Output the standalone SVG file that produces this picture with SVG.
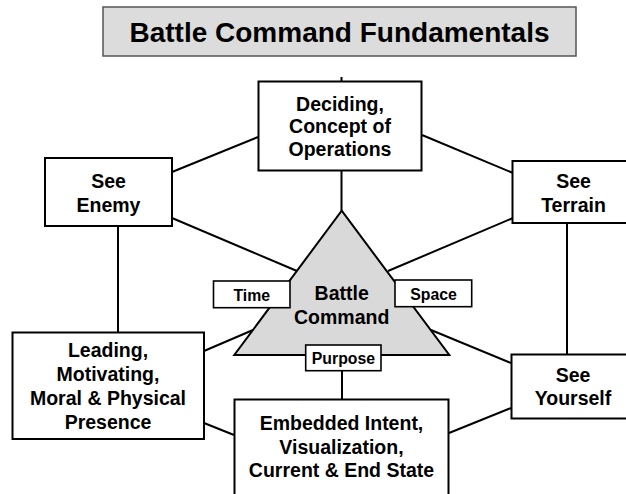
<svg xmlns="http://www.w3.org/2000/svg" width="626" height="494" viewBox="0 0 626 494">
  <style>
    text { font-family: "Liberation Sans", Arial, sans-serif; font-weight: bold; fill: #000; text-anchor: middle; }
    .node { fill: #fff; stroke: #000; stroke-width: 2; }
    .lbl { fill: #fff; stroke: #000; stroke-width: 1.6; }
    .t { font-size: 19.5px; }
    .s { font-size: 15.8px; }
    .conn line { stroke: #000; stroke-width: 2; }
  </style>
  <rect width="626" height="494" fill="#fff"/>
  <g id="title">
    <rect x="103" y="7" width="473" height="49" fill="#dcdcdc" stroke="#555" stroke-width="1.5"/>
    <text x="339.5" y="42" style="font-size:28px">Battle Command Fundamentals</text>
  </g>
  <g id="connectors" class="conn">
    <line x1="341.5" y1="77" x2="341.5" y2="211"/>
    <line x1="172" y1="172" x2="258" y2="137"/>
    <line x1="422" y1="135" x2="513" y2="173"/>
    <line x1="172" y1="218" x2="297" y2="271"/>
    <line x1="513" y1="218" x2="388" y2="271"/>
    <line x1="118" y1="226" x2="118" y2="332"/>
    <line x1="567" y1="223" x2="567" y2="354"/>
    <line x1="204" y1="351" x2="253" y2="330"/>
    <line x1="431" y1="330" x2="511" y2="363"/>
    <line x1="204" y1="423" x2="234" y2="435"/>
    <line x1="449" y1="433" x2="511" y2="408"/>
    <line x1="342" y1="371" x2="342" y2="399"/>
  </g>
  <g id="battle-command">
    <polygon points="341.7,210.7 449.3,355 234.3,355" fill="#d9d9d9" stroke="#000" stroke-width="2" stroke-linejoin="miter"/>
    <text class="t" x="341.7" y="300">Battle</text>
    <text class="t" x="341.7" y="324">Command</text>
  </g>
  <g id="deciding">
    <rect class="node" x="258.5" y="81.5" width="163" height="89"/>
    <text class="t" x="340" y="110.7">Deciding,</text>
    <text class="t" x="340" y="133.3">Concept of</text>
    <text class="t" x="340" y="156">Operations</text>
  </g>
  <g id="see-enemy">
    <rect class="node" x="45" y="158" width="127" height="68"/>
    <text class="t" x="108.5" y="188">See</text>
    <text class="t" x="108.5" y="212">Enemy</text>
  </g>
  <g id="see-terrain">
    <rect class="node" x="512.5" y="161" width="124" height="62"/>
    <text class="t" x="573.5" y="187.7">See</text>
    <text class="t" x="573.5" y="211.7">Terrain</text>
  </g>
  <g id="leading">
    <rect class="node" x="12.5" y="332.5" width="191.5" height="106.5"/>
    <text class="t" x="108" y="356.7">Leading,</text>
    <text class="t" x="108" y="381">Motivating,</text>
    <text class="t" x="108" y="405">Moral &amp; Physical</text>
    <text class="t" x="108" y="429.3">Presence</text>
  </g>
  <g id="see-yourself">
    <rect class="node" x="511.5" y="354.5" width="124" height="64"/>
    <text class="t" x="573" y="381.7">See</text>
    <text class="t" x="573" y="405">Yourself</text>
  </g>
  <g id="embedded">
    <rect class="node" x="234.5" y="399.5" width="214" height="100"/>
    <text class="t" x="341.5" y="430">Embedded Intent,</text>
    <text class="t" x="341.5" y="454.3">Visualization,</text>
    <text class="t" x="341.5" y="477.3">Current &amp; End State</text>
  </g>
  <g id="time">
    <rect class="lbl" x="213.5" y="281" width="76.5" height="26.7"/>
    <text class="s" x="251.7" y="301">Time</text>
  </g>
  <g id="space">
    <rect class="lbl" x="395" y="280" width="76.7" height="26.7"/>
    <text class="s" x="433.5" y="300">Space</text>
  </g>
  <g id="purpose">
    <rect class="lbl" x="305.7" y="345" width="75.3" height="25.7"/>
    <text class="s" x="343.4" y="364">Purpose</text>
  </g>
</svg>
